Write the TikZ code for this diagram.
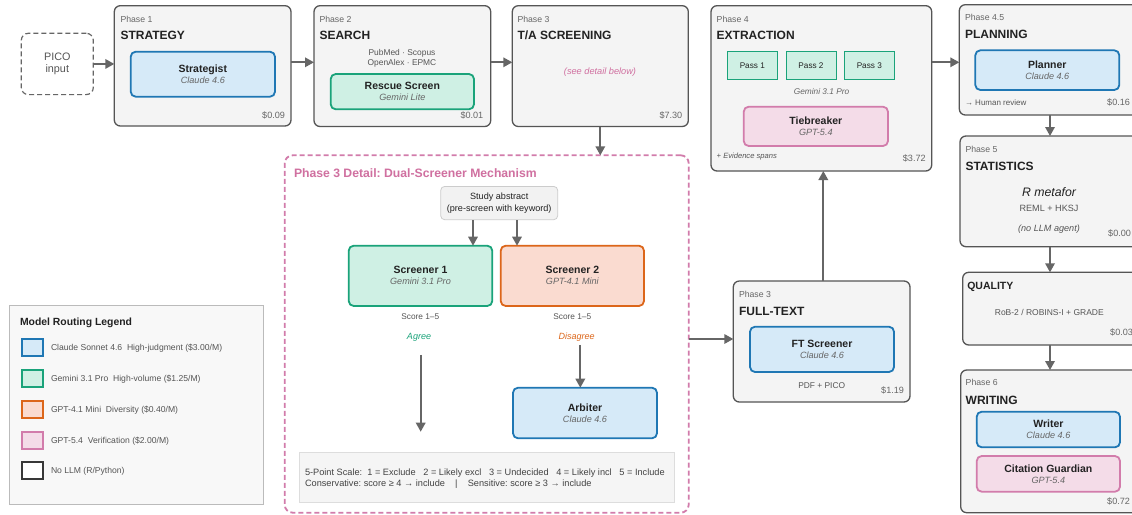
\documentclass[tikz,border=0pt]{standalone}
\usepackage{fontspec}
\setmainfont{Liberation Sans}
\usetikzlibrary{arrows.meta}
\newlength{\du}
\setlength{\du}{1pt}
\newcommand{\modeltxt}[1]{{\fontsize{9.1}{11}\selectfont\mdseries\itshape\color{modelcol}#1}}
\frenchspacing

\begin{document}
\begin{tikzpicture}[
  phase/.style={draw=phaseline, fill=phasefill, line width=1.3\du, rounded corners=6\du,
    inner sep=0pt, outer sep=0pt, anchor=north west},
  agent/.style={line width=1.8\du, rounded corners=5\du, inner sep=0pt, outer sep=0pt,
    anchor=north west, align=center, text=titlecol, font=\fontsize{10.5}{11}\selectfont\bfseries},
  blueagent/.style={agent, fill=bluefill, draw=blueline},
  greenagent/.style={agent, fill=greenfill, draw=greenline},
  orangeagent/.style={agent, fill=orangefill, draw=orangeline},
  pinkagent/.style={agent, fill=pinkfill, draw=pinkline},
  passbox/.style={fill=greenfill, draw=greenline, line width=0.9\du, inner sep=0pt, outer sep=0pt,
    anchor=north west, minimum width=50\du, minimum height=28.4\du, text=titlecol,
    font=\fontsize{8.2}{10}\selectfont},
  swatch/.style={line width=1.5\du, inner sep=0pt, outer sep=0pt, anchor=north west,
    minimum width=21\du, minimum height=17\du},
  lbl/.style={anchor=base west, inner sep=0pt, outer sep=0pt, text=labelcol, font=\fontsize{8.7}{10}\selectfont},
  ttl/.style={anchor=base west, inner sep=0pt, outer sep=0pt, text=titlecol, font=\fontsize{12}{14}\selectfont\bfseries},
  cost/.style={anchor=base east, inner sep=0pt, outer sep=0pt, text=labelcol, font=\fontsize{9.1}{11}\selectfont},
  note/.style={anchor=base, inner sep=0pt, outer sep=0pt, text=notecol, font=\fontsize{8.4}{10}\selectfont},
  legtxt/.style={anchor=base west, inner sep=0pt, outer sep=0pt, text=notecol, font=\fontsize{8.6}{10}\selectfont},
  flow/.style={draw=arrowcol, line width=1.7\du, -{Triangle[length=9pt,width=9.5pt]}},
]
\pgftransformyscale{-1.000000}
\definecolor{phasefill}{HTML}{F4F4F4}
\definecolor{phaseline}{HTML}{555555}
\definecolor{arrowcol}{HTML}{666666}
\definecolor{titlecol}{HTML}{222222}
\definecolor{labelcol}{HTML}{666666}
\definecolor{modelcol}{HTML}{666666}
\definecolor{notecol}{HTML}{555555}
\definecolor{bluefill}{HTML}{D6EAF8}
\definecolor{blueline}{HTML}{1F77B4}
\definecolor{greenfill}{HTML}{CFF0E4}
\definecolor{greenline}{HTML}{1AA37A}
\definecolor{orangefill}{HTML}{FADBD0}
\definecolor{orangeline}{HTML}{DC661A}
\definecolor{pinkfill}{HTML}{F4DCE8}
\definecolor{pinkline}{HTML}{D27CAB}
\definecolor{pinktxt}{HTML}{D070A0}
\definecolor{abstfill}{HTML}{F2F2F2}
\definecolor{abstline}{HTML}{CCCCCC}
\definecolor{scalefill}{HTML}{F5F5F5}
\definecolor{scaleline}{HTML}{DDDDDD}
\definecolor{legfill}{HTML}{F8F8F8}
\definecolor{legline}{HTML}{BBBBBB}
\useasboundingbox (0\du,0\du) rectangle (1132\du,514\du);
\clip (0\du,0\du) rectangle (1132\du,514\du);
\fill[white] (0\du,0\du) rectangle (1132\du,514\du);

% helper coordinates
\coordinate (rowy) at (0\du,62.3\du);
\coordinate (colx) at (1050\du,0\du);
\coordinate (ftrow) at (0\du,339\du);
\coordinate (ftcol) at (823.3\du,0\du);
\coordinate (s1in) at (473\du,0\du);
\coordinate (s2in) at (517\du,0\du);
\coordinate (arbx) at (580.3\du,0\du);
\coordinate (agreeend) at (420.7\du,431.7\du);

% input
\node[draw=arrowcol, dash pattern=on 5\du off 3\du, line width=1.2\du, rounded corners=7\du,
  inner sep=0pt, anchor=north west, minimum width=72\du, minimum height=61.3\du, align=center,
  text=notecol, font=\fontsize{10.8}{12.3}\selectfont] (pico) at (20.7\du,32.7\du) {PICO\\input};

% Phase 1
\node[phase, minimum width=176.7\du, minimum height=120.3\du] (p1) at (114.3\du,5.7\du) {};
\node[lbl] (p1lbl) at (120.5\du,22\du) {Phase 1};
\node[ttl] (p1ttl) at (120.5\du,39.5\du) {STRATEGY};
\node[blueagent, minimum width=144.3\du, minimum height=45\du] (strat) at (130.7\du,51.7\du)
  {Strategist\\\modeltxt{Claude 4.6}};
\node[cost] (p1cost) at (285\du,118.3\du) {\$0.09};

% Phase 2
\node[phase, minimum width=176.7\du, minimum height=120.8\du] (p2) at (314\du,5.7\du) {};
\node[lbl] (p2lbl) at (319.5\du,22\du) {Phase 2};
\node[ttl] (p2ttl) at (319.5\du,39.7\du) {SEARCH};
\node[note] (db1) at (402\du,55.7\du) {PubMed · Scopus};
\node[note] (db2) at (402\du,65.7\du) {OpenAlex · EPMC};
\node[greenagent, minimum width=143.3\du, minimum height=35.3\du] (rescue) at (330.7\du,74\du)
  {Rescue Screen\\\modeltxt{Gemini Lite}};
\node[cost] (p2cost) at (483.3\du,118.3\du) {\$0.01};

% Phase 3
\node[phase, minimum width=176\du, minimum height=120.8\du] (p3) at (512.3\du,5.7\du) {};
\node[lbl] (p3lbl) at (517.5\du,22\du) {Phase 3};
\node[ttl] (p3ttl) at (517.5\du,39.7\du) {T/A SCREENING};
\node[note, text=pinktxt, font=\fontsize{9.2}{11}\selectfont\itshape] (seebelow) at (600\du,74.7\du) {(see detail below)};
\node[cost] (p3cost) at (682.3\du,118.3\du) {\$7.30};

% Phase 4
\node[phase, minimum width=220.7\du, minimum height=165.3\du] (p4) at (711\du,5.7\du) {};
\node[lbl] (p4lbl) at (716.7\du,22\du) {Phase 4};
\node[ttl] (p4ttl) at (716.7\du,39.7\du) {EXTRACTION};
\node[passbox] (pass1) at (727.3\du,51.3\du) {Pass 1};
\node[passbox] (pass2) at (786\du,51.3\du) {Pass 2};
\node[passbox] (pass3) at (844.3\du,51.3\du) {Pass 3};
\node[note, text=modelcol, font=\fontsize{8.3}{10}\selectfont\itshape] (passmodel) at (821.5\du,94\du) {Gemini 3.1 Pro};
\node[pinkagent, minimum width=144.3\du, minimum height=39.3\du] (tie) at (743.7\du,106.7\du)
  {Tiebreaker\\\modeltxt{GPT-5.4}};
\node[lbl, text=notecol, font=\fontsize{7.6}{9}\selectfont\itshape] (spans) at (716.7\du,158.3\du) {+ Evidence spans};
\node[cost] (p4cost) at (925.7\du,161.7\du) {\$3.72};

% Phase 4.5
\node[phase, minimum width=184\du, minimum height=110.3\du] (p45) at (959.3\du,4.7\du) {};
\node[lbl] (p45lbl) at (965\du,20.7\du) {Phase 4.5};
\node[ttl] (p45ttl) at (965\du,38.3\du) {PLANNING};
\node[blueagent, minimum width=144\du, minimum height=39.7\du] (planner) at (975.3\du,50.3\du)
  {Planner\\\modeltxt{Claude 4.6}};
\node[lbl, text=notecol, font=\fontsize{8}{10}\selectfont] (human) at (965\du,105\du) {→ Human review};
\node[cost] (p45cost) at (1130\du,105\du) {\$0.16};

% Phase 5
\node[phase, minimum width=184\du, minimum height=110.7\du] (p5) at (960\du,136\du) {};
\node[lbl] (p5lbl) at (965.5\du,152.3\du) {Phase 5};
\node[ttl] (p5ttl) at (965.5\du,170.7\du) {STATISTICS};
\node[note, text=titlecol, font=\fontsize{12.3}{14}\selectfont\itshape] (metafor) at (1049\du,196.7\du) {R metafor};
\node[note, font=\fontsize{9.1}{11}\selectfont] (reml) at (1049\du,211.7\du) {REML + HKSJ};
\node[note, font=\fontsize{9.1}{11}\selectfont\itshape] (nollm) at (1049\du,231\du) {(no LLM agent)};
\node[cost] (p5cost) at (1131\du,236.7\du) {\$0.00};

% Quality
\node[phase, minimum width=184\du, minimum height=72.7\du] (pq) at (962.7\du,272.3\du) {};
\node[ttl, font=\fontsize{10.5}{12}\selectfont\bfseries] (pqttl) at (967.3\du,289.3\du) {QUALITY};
\node[note, font=\fontsize{8.5}{10}\selectfont] (rob) at (1049.3\du,315.7\du) {RoB-2 / ROBINS-I + GRADE};
\node[cost] (pqcost) at (1133\du,335.7\du) {\$0.03};

% Phase 6
\node[phase, minimum width=184\du, minimum height=142.7\du] (p6) at (960.7\du,370\du) {};
\node[lbl] (p6lbl) at (965.7\du,385.7\du) {Phase 6};
\node[ttl] (p6ttl) at (965.7\du,404\du) {WRITING};
\node[blueagent, minimum width=143.3\du, minimum height=35.6\du] (writer) at (976.7\du,411.7\du)
  {Writer\\\modeltxt{Claude 4.6}};
\node[pinkagent, minimum width=143.3\du, minimum height=35.7\du] (guard) at (976.7\du,456\du)
  {Citation Guardian\\\modeltxt{GPT-5.4}};
\node[cost] (p6cost) at (1130\du,504\du) {\$0.72};

% Phase 3 full text
\node[phase, minimum width=176.7\du, minimum height=121\du] (pft) at (733.3\du,281\du) {};
\node[lbl] (pftlbl) at (739\du,297.3\du) {Phase 3};
\node[ttl] (pftttl) at (739\du,315.3\du) {FULL-TEXT};
\node[blueagent, minimum width=144\du, minimum height=45.3\du] (ftscr) at (750\du,326.7\du)
  {FT Screener\\\modeltxt{Claude 4.6}};
\node[note] (pdf) at (821.7\du,388\du) {PDF + PICO};
\node[cost] (pftcost) at (904\du,393.3\du) {\$1.19};

% Phase 3 detail
\node[draw=pinkline, dash pattern=on 5\du off 3\du, line width=1.8\du, rounded corners=8\du,
  inner sep=0pt, outer sep=0pt, anchor=north west, minimum width=404\du, minimum height=357.4\du]
  (detail) at (284.7\du,155.3\du) {};
\node[ttl, text=pinktxt, font=\fontsize{12.2}{14}\selectfont\bfseries] (detailttl) at (294\du,177\du)
  {Phase 3 Detail: Dual-Screener Mechanism};
\node[fill=abstfill, draw=abstline, line width=0.8\du, rounded corners=4\du, inner sep=0pt,
  anchor=north west, minimum width=117\du, minimum height=33.3\du, align=center, text=titlecol,
  font=\fontsize{9.1}{11.6}\selectfont] (abs) at (440.3\du,186\du) {Study abstract\\(pre-screen with keyword)};
\node[greenagent, minimum width=143.6\du, minimum height=60.3\du] (scr1) at (348.7\du,245.7\du)
  {Screener 1\\\modeltxt{Gemini 3.1 Pro}};
\node[orangeagent, minimum width=143.3\du, minimum height=60.3\du] (scr2) at (500.7\du,245.7\du)
  {Screener 2\\\modeltxt{GPT-4.1 Mini}};
\node[note, font=\fontsize{8.3}{10}\selectfont] (score1) at (420.3\du,319.3\du) {Score 1–5};
\node[note, font=\fontsize{8.3}{10}\selectfont] (score2) at (572.3\du,319.3\du) {Score 1–5};
\node[note, text=greenline, font=\fontsize{9}{11}\selectfont\itshape] (agree) at (419\du,339.3\du) {Agree};
\node[note, text=orangeline, font=\fontsize{9}{11}\selectfont\itshape] (disagree) at (576.7\du,339.3\du) {Disagree};
\node[blueagent, minimum width=144\du, minimum height=50.6\du] (arb) at (513\du,387.7\du)
  {Arbiter\\\modeltxt{Claude 4.6}};
\node[fill=scalefill, draw=scaleline, line width=0.8\du, inner sep=0pt, anchor=north west,
  minimum width=374.7\du, minimum height=49.7\du] (scale) at (299\du,452.3\du) {};
\node[legtxt, text=titlecol!85, font=\fontsize{9.2}{11}\selectfont] (scale1) at (305\du,475.7\du)
  {5-Point Scale:\ \ 1 = Exclude\ \ \ 2 = Likely excl\ \ \ 3 = Undecided\ \ \ 4 = Likely incl\ \ \ 5 = Include};
\node[legtxt, text=titlecol!85, font=\fontsize{9.2}{11}\selectfont] (scale2) at (305\du,486.7\du)
  {Conservative: score ≥ 4 → include\ \ \ \ |\ \ \ \ Sensitive: score ≥ 3 → include};

% legend
\node[fill=legfill, draw=legline, line width=0.9\du, inner sep=0pt, anchor=north west,
  minimum width=254\du, minimum height=199\du] (legend) at (9\du,305\du) {};
\node[ttl, font=\fontsize{10.4}{12}\selectfont\bfseries] (legttl) at (20\du,325.7\du) {Model Routing Legend};
\node[swatch, fill=bluefill, draw=blueline] (swblue) at (22\du,339\du) {};
\node[swatch, fill=greenfill, draw=greenline] (swgreen) at (22\du,370\du) {};
\node[swatch, fill=orangefill, draw=orangeline] (sworange) at (22\du,401\du) {};
\node[swatch, fill=pinkfill, draw=pinkline] (swpink) at (22\du,432\du) {};
\node[swatch, fill=white, draw=titlecol!90] (swnone) at (22\du,462\du) {};
\node[legtxt] (legblue) at (51\du,350.6\du) {Claude Sonnet 4.6\ \ High-judgment (\$3.00/M)};
\node[legtxt] (leggreen) at (51\du,381.6\du) {Gemini 3.1 Pro\ \ High-volume (\$1.25/M)};
\node[legtxt] (legorange) at (51\du,412.6\du) {GPT-4.1 Mini\ \ Diversity (\$0.40/M)};
\node[legtxt] (legpink) at (51\du,443.6\du) {GPT-5.4\ \ Verification (\$2.00/M)};
\node[legtxt] (legnone) at (51\du,473.6\du) {No LLM (R/Python)};

% connectors
\draw[flow] (pico.east) -- (pico.east -| p1.west);
\draw[flow] (p1.east |- rowy) -- (p2.west |- rowy);
\draw[flow] (p2.east |- rowy) -- (p3.west |- rowy);
\draw[flow] (p3.south) -- (p3.south |- detail.north);
\draw[flow] (p4.east |- rowy) -- (p45.west |- rowy);
\draw[flow] (p45.south -| colx) -- (p5.north -| colx);
\draw[flow] (p5.south -| colx) -- (pq.north -| colx);
\draw[flow] (pq.south -| colx) -- (p6.north -| colx);
\draw[flow] (abs.south -| s1in) -- (scr1.north -| s1in);
\draw[flow] (abs.south -| s2in) -- (scr2.north -| s2in);
\draw[flow, shorten <=13.8\du] (agree.south -| agreeend) -- (agreeend);
\draw[flow, shorten <=3.8\du] (disagree.south -| arbx) -- (arb.north -| arbx);
\draw[flow] (detail.east |- ftrow) -- (pft.west |- ftrow);
\draw[flow] (pft.north -| ftcol) -- (p4.south -| ftcol);
\end{tikzpicture}
\end{document}
